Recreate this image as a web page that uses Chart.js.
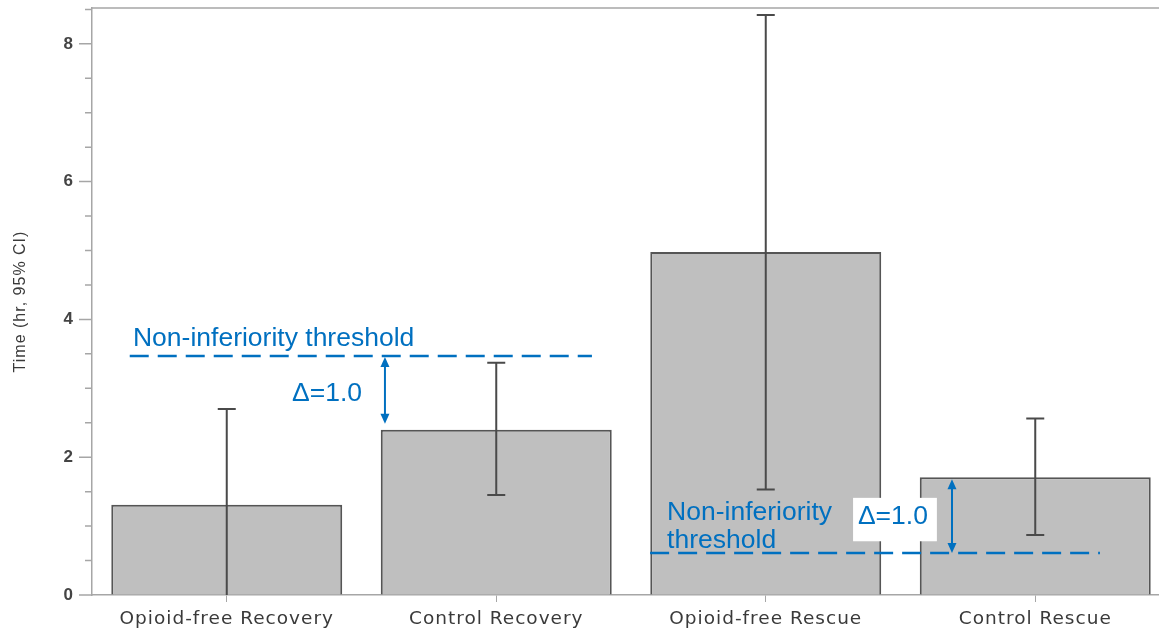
<!DOCTYPE html>
<html>
<head>
<meta charset="utf-8">
<script src="https://cdn.jsdelivr.net/npm/chart.js@4.4.1/dist/chart.umd.min.js"></script>
<style>
  html, body { margin: 0; padding: 0; background: #fff; overflow: hidden; }
  #wrap { width: 1170px; height: 628px; position: relative; }
</style>
</head>
<body>
<div id="wrap"><canvas id="myChart"></canvas></div>
<script>
//* DATA *//
let categories = ['Opioid-free Recovery', 'Control Recovery', 'Opioid-free Rescue', 'Control Rescue'];
let meanTimes = [1.31, 2.40, 4.98, 1.71];
let ciLower = [0.00, 1.45, 1.53, 0.87];
let ciUpper = [2.70, 3.37, 8.42, 2.56];
let yTickLabels = [0, 2, 4, 6, 8];
let thresholdValues = [3.47, 0.61];
let deltaText = 'Δ=1.0';

//* STYLE *//
let blue = '#0070c0';
let axisGray = '#a6a6a6';
let labelFont = "'Liberation Sans', Arial, sans-serif";
let axisFont = "'DejaVu Sans', Verdana, sans-serif";

// annotation layout (x in category units, y in axis units)
let notes = [
  { y: thresholdValues[0], x0: -0.36, x1: 1.355, arrowX: 0.587, arrowTo: meanTimes[1], gapTop: 1, gapBottom: 6,
    lines: ['Non-inferiority threshold'], textX: -0.348, textY: [3.61],
    deltaX: 0.242, deltaY: 2.92, box: null },
  { y: thresholdValues[1], x0: 1.571, x1: 3.24, arrowX: 2.691, arrowTo: meanTimes[3], gapTop: 2, gapBottom: 0,
    lines: ['Non-inferiority', 'threshold'], textX: 1.634, textY: [1.09, 0.68],
    deltaX: 2.342, deltaY: 1.13, box: { x0: 2.324, x1: 2.635, y0: 1.41, y1: 0.78 } }
];

let ctx = document.getElementById('myChart');

//* PLUGINS *//
let spacingPlugin = {
  id: 'spacing',
  beforeDraw(chart) {
    chart.ctx.letterSpacing = '1px';
  }
};

let framePlugin = {
  id: 'frame',
  afterDraw(chart) {
    let c = chart.ctx;
    let area = chart.chartArea;
    let y = chart.scales.y;
    c.save();
    c.strokeStyle = axisGray;
    c.lineWidth = 1.5;
    c.beginPath();
    c.moveTo(area.left, area.top);
    c.lineTo(area.right, area.top);
    for (let v = 0; v <= 8.5; v += 0.5) {
      let py = y.getPixelForValue(v);
      let len = yTickLabels.includes(v) ? 13 : 7;
      c.moveTo(area.left - len, py);
      c.lineTo(area.left, py);
    }
    c.stroke();
    c.restore();
  }
};

let errorBarPlugin = {
  id: 'errorBars',
  afterDatasetsDraw(chart) {
    let c = chart.ctx;
    let y = chart.scales.y;
    let meta = chart.getDatasetMeta(0);
    c.save();
    c.strokeStyle = '#4a4a4a';
    c.lineWidth = 2;
    for (let i = 0; i < meta.data.length; i++) {
      let x = meta.data[i].x;
      let yLo = y.getPixelForValue(ciLower[i]);
      let yHi = y.getPixelForValue(ciUpper[i]);
      c.beginPath();
      c.moveTo(x, yLo);
      c.lineTo(x, yHi);
      c.moveTo(x - 9, yHi);
      c.lineTo(x + 9, yHi);
      if (ciLower[i] > 0) {
        c.moveTo(x - 9, yLo);
        c.lineTo(x + 9, yLo);
      }
      c.stroke();
    }
    c.restore();
  }
};

function arrowHead(c, x, y, dir) {
  c.beginPath();
  c.moveTo(x, y);
  c.lineTo(x - 4.5, y + dir * 10);
  c.lineTo(x + 4.5, y + dir * 10);
  c.closePath();
  c.fill();
}

let notePlugin = {
  id: 'notes',
  afterDraw(chart) {
    let c = chart.ctx;
    let xs = chart.scales.x;
    let ys = chart.scales.y;
    c.save();
    c.letterSpacing = '0px';
    c.strokeStyle = blue;
    c.fillStyle = blue;
    notes.forEach(n => {
      // dashed threshold
      let ly = ys.getPixelForValue(n.y);
      c.lineWidth = 2.5;
      c.setLineDash([19, 9]);
      c.beginPath();
      c.moveTo(xs.getPixelForValue(n.x0), ly);
      c.lineTo(xs.getPixelForValue(n.x1), ly);
      c.stroke();
      c.setLineDash([]);

      // double arrow
      let ax = xs.getPixelForValue(n.arrowX);
      let topY = Math.min(ly, ys.getPixelForValue(n.arrowTo)) + n.gapTop;
      let botY = Math.max(ly, ys.getPixelForValue(n.arrowTo)) - n.gapBottom;
      c.lineWidth = 2;
      c.beginPath();
      c.moveTo(ax, topY + 6);
      c.lineTo(ax, botY - 6);
      c.stroke();
      arrowHead(c, ax, topY, 1);
      arrowHead(c, ax, botY, -1);

      // label
      c.font = '26.5px ' + labelFont;
      c.textAlign = 'left';
      c.textBaseline = 'alphabetic';
      n.lines.forEach((t, k) => {
        c.fillText(t, xs.getPixelForValue(n.textX), ys.getPixelForValue(n.textY[k]));
      });

      if (n.box) {
        let bx0 = xs.getPixelForValue(n.box.x0);
        let bx1 = xs.getPixelForValue(n.box.x1);
        let by0 = ys.getPixelForValue(n.box.y0);
        let by1 = ys.getPixelForValue(n.box.y1);
        c.fillStyle = '#ffffff';
        c.fillRect(bx0, by0, bx1 - bx0, by1 - by0);
        c.fillStyle = blue;
      }
      c.textBaseline = 'middle';
      c.fillText(deltaText, xs.getPixelForValue(n.deltaX), ys.getPixelForValue(n.deltaY));
    });
    c.restore();
  }
};

//* CHART *//
let chartObj = {
  type: 'bar',
  data: {
    labels: categories,
    datasets: [{
      label: 'Time',
      data: meanTimes,
      backgroundColor: '#bfbfbf',
      borderColor: '#555555',
      borderWidth: 2,
      barPercentage: 0.857,
      categoryPercentage: 1
    }]
  },
  options: {
    responsive: true,
    maintainAspectRatio: false,
    animation: false,
    layout: { padding: { top: 8, left: 0, right: 0, bottom: 0 } },
    plugins: {
      legend: { display: false },
      tooltip: { enabled: false }
    },
    scales: {
      x: {
        offset: true,
        afterFit(scale) {
          scale.height = 33;
          scale.paddingLeft = 0;
          scale.paddingRight = 0;
        },
        grid: { display: true, drawOnChartArea: false, drawTicks: true, tickLength: 7, offset: false, color: axisGray },
        border: { display: true, color: axisGray, width: 1.5 },
        ticks: {
          autoSkip: false,
          maxRotation: 0,
          padding: 6,
          color: '#3a3a3a',
          font: { family: axisFont, size: 18.5 }
        }
      },
      y: {
        min: 0,
        max: 8.52,
        afterFit(scale) {
          scale.width = 92;
          scale.paddingTop = 0;
          scale.paddingBottom = 0;
        },
        grid: { drawOnChartArea: false, drawTicks: false },
        border: { display: true, color: axisGray, width: 1.5 },
        ticks: {
          stepSize: 2,
          includeBounds: false,
          padding: 18,
          color: '#444444',
          font: { family: labelFont, size: 17, weight: 'bold' },
          callback: function (value) {
            return yTickLabels.includes(value) ? String(value) : '';
          }
        },
        title: {
          display: true,
          text: 'Time (hr, 95% CI)',
          color: '#3a3a3a',
          padding: { top: 11, bottom: 0 },
          font: { family: labelFont, size: 16 }
        }
      }
    }
  },
  plugins: [spacingPlugin, framePlugin, errorBarPlugin, notePlugin]
};

new Chart(ctx, chartObj);
</script>
</body>
</html>
